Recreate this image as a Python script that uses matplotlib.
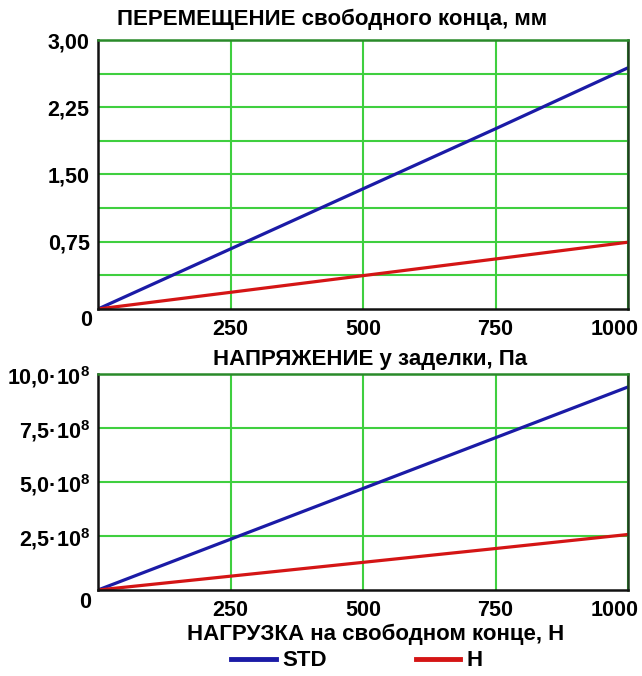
import matplotlib
matplotlib.use("Agg")
import matplotlib.pyplot as plt
from matplotlib.lines import Line2D
from matplotlib.transforms import ScaledTranslation

plt.rcParams["font.family"] = ["Liberation Sans", "DejaVu Sans"]
plt.rcParams["font.weight"] = "bold"
plt.rcParams["mathtext.fontset"] = "custom"
plt.rcParams["mathtext.rm"] = "Liberation Sans:bold"
plt.rcParams["mathtext.default"] = "rm"

# load on the free end, N
load = [0, 250, 500, 750, 1000]
# displacement of the free end, mm
disp_std = [0.0, 0.67, 1.34, 2.01, 2.69]
disp_h = [0.0, 0.186, 0.372, 0.558, 0.745]
# stress at the fixed end, units of 1e8 Pa
stress_std = [0.0, 2.35, 4.70, 7.05, 9.40]
stress_h = [0.0, 0.64, 1.28, 1.92, 2.57]

x_ticks = [250, 500, 750, 1000]
x_ticklabels = ["250", "500", "750", "1000"]
top_ticks = [0.75, 1.5, 2.25, 3.0]
top_ticklabels = ["0,75", "1,50", "2,25", "3,00"]
top_minor = [0.375, 1.125, 1.875, 2.625]
bot_ticks = [2.5, 5.0, 7.5, 10.0]
bot_ticklabels = ["2,5·10$^{8}$", "5,0·10$^{8}$", "7,5·10$^{8}$", "10,0·10$^{8}$"]

BLUE = "#1b1ba6"
RED = "#d41515"
GREEN = "#3fcf3f"
TICK_FS = 15.5
TEXT_FS = 16

fig = plt.figure(figsize=(6.42, 6.76), dpi=100)
W, H = 642, 676


def add_axes(left, top, right, bottom):
    return fig.add_axes([left / W, 1 - bottom / H, (right - left) / W, (bottom - top) / H])


def style(ax, ymax, yticks, ylabels, zero_xy, minor=None):
    ax.set_xlim(0, 1000)
    ax.set_ylim(0, ymax)
    ax.set_xticks(x_ticks)
    ax.set_xticklabels(x_ticklabels)
    ax.set_yticks(yticks)
    ax.set_yticklabels(ylabels)
    if minor:
        ax.set_yticks(minor, minor=True)
    ax.tick_params(length=0, labelsize=TICK_FS, which="both")
    ax.tick_params(axis="y", pad=6)
    ax.tick_params(axis="x", pad=7)
    ax.grid(True, which="both", color=GREEN, lw=1.5)
    ax.set_axisbelow(True)
    for s in ["left", "bottom"]:
        ax.spines[s].set_color("#111111")
        ax.spines[s].set_linewidth(1.8)
    ax.spines["top"].set_color("#2a8a2a")
    ax.spines["top"].set_linewidth(1.8)
    ax.spines["right"].set_color("#1f3f1f")
    ax.spines["right"].set_linewidth(1.8)
    # last x label sits a bit inside the frame, as in the original
    last = ax.get_xticklabels()[-1]
    last.set_transform(last.get_transform() + ScaledTranslation(-0.13, 0, fig.dpi_scale_trans))
    fig.text(zero_xy[0] / W, 1 - zero_xy[1] / H, "0", ha="center", va="center",
             fontsize=TICK_FS, fontweight="bold")


ax1 = add_axes(98, 40, 628, 309)
ax1.plot(load, disp_std, color=BLUE, lw=2.3)
ax1.plot(load, disp_h, color=RED, lw=2.3)
style(ax1, 3.0, top_ticks, top_ticklabels, (86, 320), top_minor)

ax2 = add_axes(98, 374, 628, 590)
ax2.plot(load, stress_std, color=BLUE, lw=2.3)
ax2.plot(load, stress_h, color=RED, lw=2.3)
style(ax2, 10.0, bot_ticks, bot_ticklabels, (85, 603))

fig.text(332 / W, 1 - 19 / H, "ПЕРЕМЕЩЕНИЕ свободного конца, мм", ha="center", va="center",
         fontsize=TEXT_FS, fontweight="bold")
fig.text(370 / W, 1 - 359 / H, "НАПРЯЖЕНИЕ у заделки, Па", ha="center", va="center",
         fontsize=TEXT_FS, fontweight="bold")
fig.text(376 / W, 1 - 634 / H, "НАГРУЗКА на свободном конце, Н", ha="center", va="center",
         fontsize=TEXT_FS, fontweight="bold")

handles = [Line2D([], [], color=BLUE, lw=3.5), Line2D([], [], color=RED, lw=3.5)]
fig.legend(handles, ["STD", "H"], loc="center", bbox_to_anchor=(357 / W, 1 - 661 / H),
           ncol=2, frameon=False, fontsize=TEXT_FS, handlelength=2.0, handletextpad=0.3,
           columnspacing=4.0, borderpad=0)

fig.savefig("out.png", dpi=100, facecolor="white")
